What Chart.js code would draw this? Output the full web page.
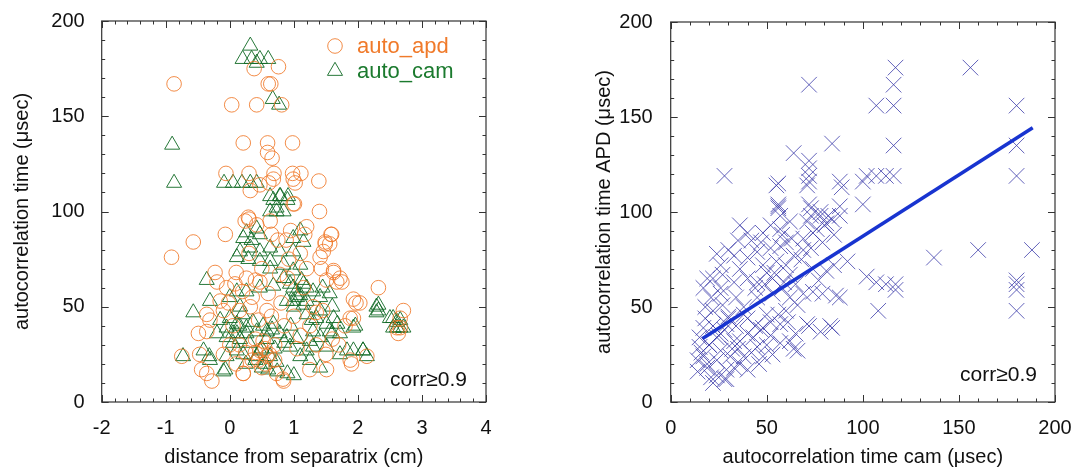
<!DOCTYPE html>
<html>
<head>
<meta charset="utf-8">
<script src="https://cdn.jsdelivr.net/npm/chart.js@4/dist/chart.umd.min.js"></script>
<style>
  html, body { margin: 0; padding: 0; background: #fff; }
  #wrap { display: flex; width: 1080px; height: 473px; }
  canvas { display: block; }
</style>
</head>
<body>
<div id="wrap">
  <canvas id="left" width="540" height="473"></canvas>
  <canvas id="right" width="540" height="473"></canvas>
</div>
<script>
// ─── Data ───────────────────────────────────────────────────────────────────

// left panel : auto_apd (circles)
const apdDist = [
  -0.87, 0.03, 0.42, 0.38, 0.76, 0.60, 0.64, 0.81,
  0.21, 0.59, 0.98, 0.59, 0.66,
  -0.06, 0.30, 0.69, 0.98, 1.11, 0.61, 1.02, 1.39, 0.32,
  1.01, 1.40, 0.30, 0.68, 0.99, 0.47, 0.99,
  -0.91, -0.57, -0.07, 1.58, 1.49, -0.23, 1.62, 1.75, 2.32, 1.97, 2.03, 2.71, 2.66, 2.63,
  -0.75, -0.44, -0.28, 0.21, 0.83, 1.90, 1.93, -0.36, -0.49,
  0.29, 0.42, 0.63, 0.24,
  -0.20, -0.05, 0.26, 0.78, 0.47,
  1.59, 1.49, 1.56, 1.20, 1.17, 1.41, 1.46, 1.43, 1.62, 1.72, 1.67, 1.51, 1.93,
  -0.36, -0.47, -0.31, -0.36, -0.10, -0.15, 0.32, 0.58, 0.47, 0.58, 0.21, 0.73, 0.84,
  1.88, 2.66, 2.61, 1.88, 2.14, 1.51, 1.25,
  0.05, 0.15, 0.35, 0.55, 0.40, 0.70, 0.85, 1.00, 1.15, 1.30, 0.90, 0.50, 0.20, 0.00,
  -0.10, 0.10, 0.60, 0.75, 0.95, 1.10, 1.25, 1.35, 1.50, 1.70, 1.80, 0.45, 0.30, 0.65,
  1.05, 0.25, 0.50, 0.45,
  0.55, 0.62, 0.70, 0.52, 0.40, 0.35, 0.15, 0.08, 0.80, 0.92, 1.20, 1.35, 1.10, 0.88,
  0.10, -0.02, 0.65, 0.40, 1.45, 1.60
];
const apdTime = [
  167, 156, 156, 175, 176, 167, 167, 156,
  136, 136, 136, 131, 128,
  120, 120, 120, 120, 120, 115, 115, 116, 111,
  104, 100, 96, 117, 117, 114, 104,
  76, 84, 88, 88, 83, 68, 68, 63, 60, 52, 52, 48, 39, 36,
  24, 17, 11, 15, 12, 20, 44, 46, 36,
  97, 93, 95, 95,
  63, 60, 65, 67, 63,
  88, 84, 83, 92, 88, 76, 79, 70, 69, 65, 63, 64, 54,
  15, 25, 43, 37, 48, 53, 50, 48, 27, 24, 15, 15, 11,
  44, 44, 39, 22, 24, 17, 17,
  40, 30, 22, 20, 33, 30, 40, 45, 60, 50, 65, 70, 58, 30,
  25, 20, 57, 85, 90, 78, 40, 30, 25, 30, 40, 43, 78, 45,
  28, 26, 18, 22,
  28, 25, 22, 32, 26, 55, 48, 62, 52, 75, 70, 47, 35, 85,
  68, 52, 88, 64, 48, 33
];

// left panel : auto_cam (triangles)
const camDist = [
  0.32, 0.20, 0.34, 0.47, 0.60, 0.42, 0.67, 0.77, -0.90, -0.87,
  -0.09, 0.05, 0.19, 0.32, 0.42, 0.63, 0.78, 0.91, 0.63, 0.73, 0.84,
  0.79, 0.68, 0.90, 0.73,
  0.26, 0.42, 0.21, 0.34, 0.47,
  0.16, 0.32, 0.47, 0.63, 0.78,
  0.11, 0.29, 0.47, 0.63,
  1.10, 0.99, 1.15, 0.99,
  0.63, 0.84, 0.99, 1.10,
  -0.36, 0.11, 0.26, 0.47, 0.68, 0.99, 1.15,
  -0.57, -0.73, -0.32, -0.10, 2.32, 2.32, 2.55, 2.66, 2.71, 2.61, 1.96, 2.08, 1.93,
  0.99, 1.05, 1.15, 0.89,
  -0.41, -0.31, -0.07,
  -0.15, 0.00, 0.11, -0.05, 0.26,
  -0.20, -0.05, 0.11, 0.26, 0.42, 0.58, 0.68, 0.78, 0.89,
  0.05, 0.11, -0.05, 0.21, 0.42, 0.47, 0.63, 0.73, 0.94, 1.10, 1.20,
  -0.31, 0.00, 0.16,
  2.29, 2.29, 2.50, 2.61, 2.66, 2.55, 1.93, 1.83, 2.08, 2.14,
  1.56, 1.72, 1.30, 1.41, 1.41, 1.62, 1.51, 1.20, 1.41, 1.56,
  1.30, 1.51, 1.72, 1.25, 1.41,
  1.00, 1.10, 1.20, 1.30, 0.90, 1.00, 0.50, 0.60, 1.45, 1.60,
  0.52, 0.58, 0.66, 0.36, 0.30, 0.20, 0.05, 0.16, 0.84, 0.94, 1.04, 1.12, 1.20, 1.28,
  0.40, 0.55, 0.70, 0.85, 0.95, 1.05, 1.25, 1.35, 0.25, 0.15, 1.60, 1.68, 0.74, 0.50
];
const camTime = [
  187, 180, 180, 180, 180, 178, 159, 156, 135, 115,
  115, 115, 115, 115, 115, 108, 108, 108, 100, 100, 100,
  108, 106, 106, 102,
  89, 91, 86, 85, 88,
  79, 81, 79, 81, 79,
  76, 75, 74, 74,
  90, 86, 84, 79,
  70, 72, 69, 72,
  64, 58, 58, 60, 61, 60, 62,
  47, 24, 24, 16, 51, 48, 44, 43, 39, 39, 40, 27, 27,
  53, 55, 51, 53,
  27, 22, 17,
  43, 44, 41, 39, 39,
  36, 34, 36, 36, 37, 37, 41, 36, 34,
  31, 27, 24, 25, 24, 27, 24, 21, 29, 24, 27,
  53, 55, 50,
  50, 47, 44, 42, 39, 39, 39, 27, 27, 24,
  37, 36, 37, 34, 48, 44, 41, 53, 55, 57,
  29, 29, 25, 22, 18,
  50, 56, 60, 58, 15, 14, 18, 17, 60, 50,
  40, 33, 38, 42, 31, 46, 36, 33, 65, 62, 58, 64, 46, 43,
  22, 20, 28, 31, 40, 33, 32, 44, 20, 40, 36, 41, 16, 28
];

// right panel : autocorrelation time cam vs APD (crosses)
const camTau = [
  28, 72, 117, 116, 107, 116, 156, 180, 180, 180, 116, 116, 112, 107, 102, 84, 64, 72, 72, 72,
  72, 56, 56, 56, 72, 88, 89, 100, 100, 78, 82, 88,
  160, 188, 137, 180, 180, 180, 180, 108, 117, 117, 112, 107, 102, 86, 84, 72, 64,
  55, 71, 88, 56, 73, 73, 71, 78, 81, 57, 52, 57, 62, 36, 40, 35, 48, 47, 52, 57,
  60, 69, 74, 79, 85, 73, 33, 40, 45, 48, 55, 26, 27, 22, 19, 17, 26, 33, 40, 45,
  53, 62, 74, 81, 85, 92,
  17, 15, 15, 17, 19, 21, 22, 26, 31, 36, 40, 29, 24, 33, 40, 45, 48, 53, 57, 62,
  66, 22, 27, 29, 40, 50, 57, 60, 48, 66, 71, 83, 78, 21, 26, 34, 45, 53, 62, 69,
  74, 88, 79,
  20, 25, 30, 35, 28, 18, 38, 44, 52, 58, 65, 68, 60, 50, 42, 30, 24, 36,
  14, 16, 20, 24, 28, 32, 36, 42, 46, 50, 18, 22, 26, 30, 34, 38, 14, 19, 24, 29,
  33, 38, 43, 47, 52, 56, 61, 65, 44, 49, 54, 59, 64, 69, 76, 80, 84, 77, 63, 58
];
const apdTau = [
  119, 167, 176, 167, 156, 156, 176, 156, 135, 119, 135, 119, 119, 119, 119, 136, 131, 127, 123, 119,
  116, 115, 104, 102, 104, 116, 113, 116, 104, 100, 98, 98,
  80, 80, 76, 64, 62, 59, 48, 48, 62, 59, 62, 63, 66, 56, 39, 40, 28,
  114, 114, 103, 103, 102, 98, 95, 98, 94, 98, 93, 91, 95, 93, 89, 85, 89, 84, 81, 82,
  84, 86, 89, 84, 88, 81, 77, 76, 79, 72, 74, 72, 67, 65, 65, 60, 60, 63, 65, 63,
  65, 67, 70, 69, 72, 74,
  39, 34, 29, 24, 18, 13, 10, 27, 24, 20, 17, 17, 22, 32, 36, 29, 24, 25, 31, 32,
  27, 48, 51, 41, 44, 46, 41, 48, 39, 51, 41, 40, 37, 55, 57, 55, 55, 57, 55, 57,
  58, 55, 57,
  30, 35, 45, 28, 12, 50, 50, 40, 35, 60, 62, 75, 72, 68, 85, 80, 78, 70,
  22, 26, 30, 34, 38, 28, 32, 26, 20, 30, 44, 40, 36, 44, 40, 46, 16, 20, 14, 12,
  18, 24, 34, 38, 42, 46, 42, 36, 60, 62, 68, 63, 77, 80, 91, 93, 96, 64, 86, 88
];

// fitted line end points
const fitX = [16.6, 188.4];
const fitY = [33.4, 144.3];

const corrLabel = 'corr\u22650.9';

// ─── Helpers ────────────────────────────────────────────────────────────────

const FONT = "'Liberation Sans', Arial, Helvetica, sans-serif";
Chart.defaults.font.family = FONT;
Chart.defaults.color = '#111';

const pts = (xs, ys) => xs.map((x, i) => ({ x, y: ys[i] }));

// box + inward ticks on all four sides
const frameTicks = {
  id: 'frameTicks',
  afterDraw(chart, args, o) {
    const { ctx, chartArea: a, scales: { x, y } } = chart;
    ctx.save();
    ctx.strokeStyle = '#333';
    ctx.lineWidth = 1.2;
    ctx.strokeRect(a.left, a.top, a.right - a.left, a.bottom - a.top);
    ctx.lineWidth = 1;
    const run = (scale, minor, major, horiz) => {
      const n = Math.round((scale.max - scale.min) / minor);
      for (let i = 0; i <= n; i++) {
        const v = scale.min + i * minor;
        const isMajor = Math.abs(v / major - Math.round(v / major)) < 1e-6;
        const len = isMajor ? 7 : 3.5;
        const p = Math.round(scale.getPixelForValue(v)) + 0.5;
        ctx.beginPath();
        if (horiz) {
          ctx.moveTo(p, a.bottom); ctx.lineTo(p, a.bottom - len);
          ctx.moveTo(p, a.top);    ctx.lineTo(p, a.top + len);
        } else {
          ctx.moveTo(a.left, p);  ctx.lineTo(a.left + len, p);
          ctx.moveTo(a.right, p); ctx.lineTo(a.right - len, p);
        }
        ctx.stroke();
      }
    };
    run(x, o.xMinor, o.xMajor, true);
    run(y, o.yMinor, o.yMajor, false);
    ctx.restore();
  }
};

// "corr>=0.9" note + optional in-plot legend
const notes = {
  id: 'notes',
  afterDatasetsDraw(chart, args, o) {
    const { ctx, chartArea: a } = chart;
    ctx.save();
    ctx.font = `21px ${FONT}`;
    ctx.fillStyle = '#111';
    ctx.textAlign = 'right';
    ctx.textBaseline = 'middle';
    ctx.fillText(corrLabel, a.right - o.corrDx, a.bottom - o.corrDy);
    if (o.legend) {
      ctx.font = `22px ${FONT}`;
      ctx.textAlign = 'left';
      chart.data.datasets.forEach((ds, i) => {
        const mx = a.right - 151, my = a.top + 25 + i * 25;
        ctx.strokeStyle = ds.borderColor;
        ctx.fillStyle = 'rgba(0,0,0,0)';
        ctx.lineWidth = 1;
        Chart.helpers.drawPoint(ctx, { pointStyle: ds.pointStyle, radius: ds.pointRadius, rotation: 0, borderWidth: 1 }, mx, my);
        ctx.fillStyle = ds.labelColor;
        ctx.fillText(ds.label, mx + 22, my + 1);
      });
    }
    ctx.restore();
  }
};

function axis(min, max, step, title, titlePad, fixed) {
  return {
    type: 'linear', min, max,
    grid: { display: false },
    border: { display: false },
    ticks: { stepSize: step, padding: fixed.tickPad, font: { size: 20 }, color: '#111' },
    title: { display: true, text: title, font: { size: 20 }, color: '#111', padding: titlePad },
    afterFit: s => { if (fixed.w) s.width = fixed.w; if (fixed.h) s.height = fixed.h; }
  };
}

// ─── Left panel ─────────────────────────────────────────────────────────────

new Chart(document.getElementById('left'), {
  type: 'scatter',
  data: {
    datasets: [
      { label: 'auto_apd', data: pts(apdDist, apdTime), pointStyle: 'circle', pointRadius: 7.3,
        borderColor: 'rgba(240,120,40,0.85)', labelColor: '#f07a2a', backgroundColor: 'rgba(0,0,0,0)', borderWidth: 1 },
      { label: 'auto_cam', data: pts(camDist, camTime), pointStyle: 'triangle', pointRadius: 8.7,
        borderColor: 'rgba(15,105,35,0.9)', labelColor: '#1b7a2e', backgroundColor: 'rgba(0,0,0,0)', borderWidth: 1 }
    ]
  },
  options: {
    responsive: false, animation: false,
    layout: { padding: { top: 17, right: 54, left: 0, bottom: 0 } },
    plugins: {
      legend: { display: false }, tooltip: { enabled: false },
      frameTicks: { xMinor: 0.2, xMajor: 1, yMinor: 10, yMajor: 50 },
      notes: { corrDx: 19, corrDy: 22, legend: true }
    },
    scales: {
      x: axis(-2, 4, 1, 'distance from separatrix (cm)', { top: 0, bottom: 4 }, { h: 71, tickPad: 6 }),
      y: axis(0, 200, 50, 'autocorrelation time (\u03bcsec)', { top: 10, bottom: 0 }, { w: 101.7, tickPad: 9 })
    }
  },
  plugins: [frameTicks, notes]
});

// ─── Right panel ────────────────────────────────────────────────────────────

new Chart(document.getElementById('right'), {
  type: 'scatter',
  data: {
    datasets: [
      { label: 'fit', type: 'line', data: pts(fitX, fitY), showLine: true, pointRadius: 0,
        borderColor: '#1834d0', borderWidth: 3.5, order: 0 },
      { label: 'apd vs cam', data: pts(camTau, apdTau), pointStyle: 'crossRot', pointRadius: 11,
        borderColor: 'rgba(60,60,170,0.8)', backgroundColor: 'rgba(0,0,0,0)', borderWidth: 1, order: 1 }
    ]
  },
  options: {
    responsive: false, animation: false,
    layout: { padding: { top: 17, right: 25, left: 0, bottom: 0 } },
    plugins: {
      legend: { display: false }, tooltip: { enabled: false },
      frameTicks: { xMinor: 10, xMajor: 50, yMinor: 10, yMajor: 50 },
      notes: { corrDx: 18, corrDy: 27, legend: false }
    },
    scales: {
      x: axis(0, 200, 50, 'autocorrelation time cam (\u03bcsec)', { top: 0, bottom: 4 }, { h: 71, tickPad: 6 }),
      y: axis(0, 200, 50, 'autocorrelation time APD (\u03bcsec)', { top: 52, bottom: 0 }, { w: 130.7, tickPad: 10 })
    }
  },
  plugins: [frameTicks, notes]
});
</script>
</body>
</html>
